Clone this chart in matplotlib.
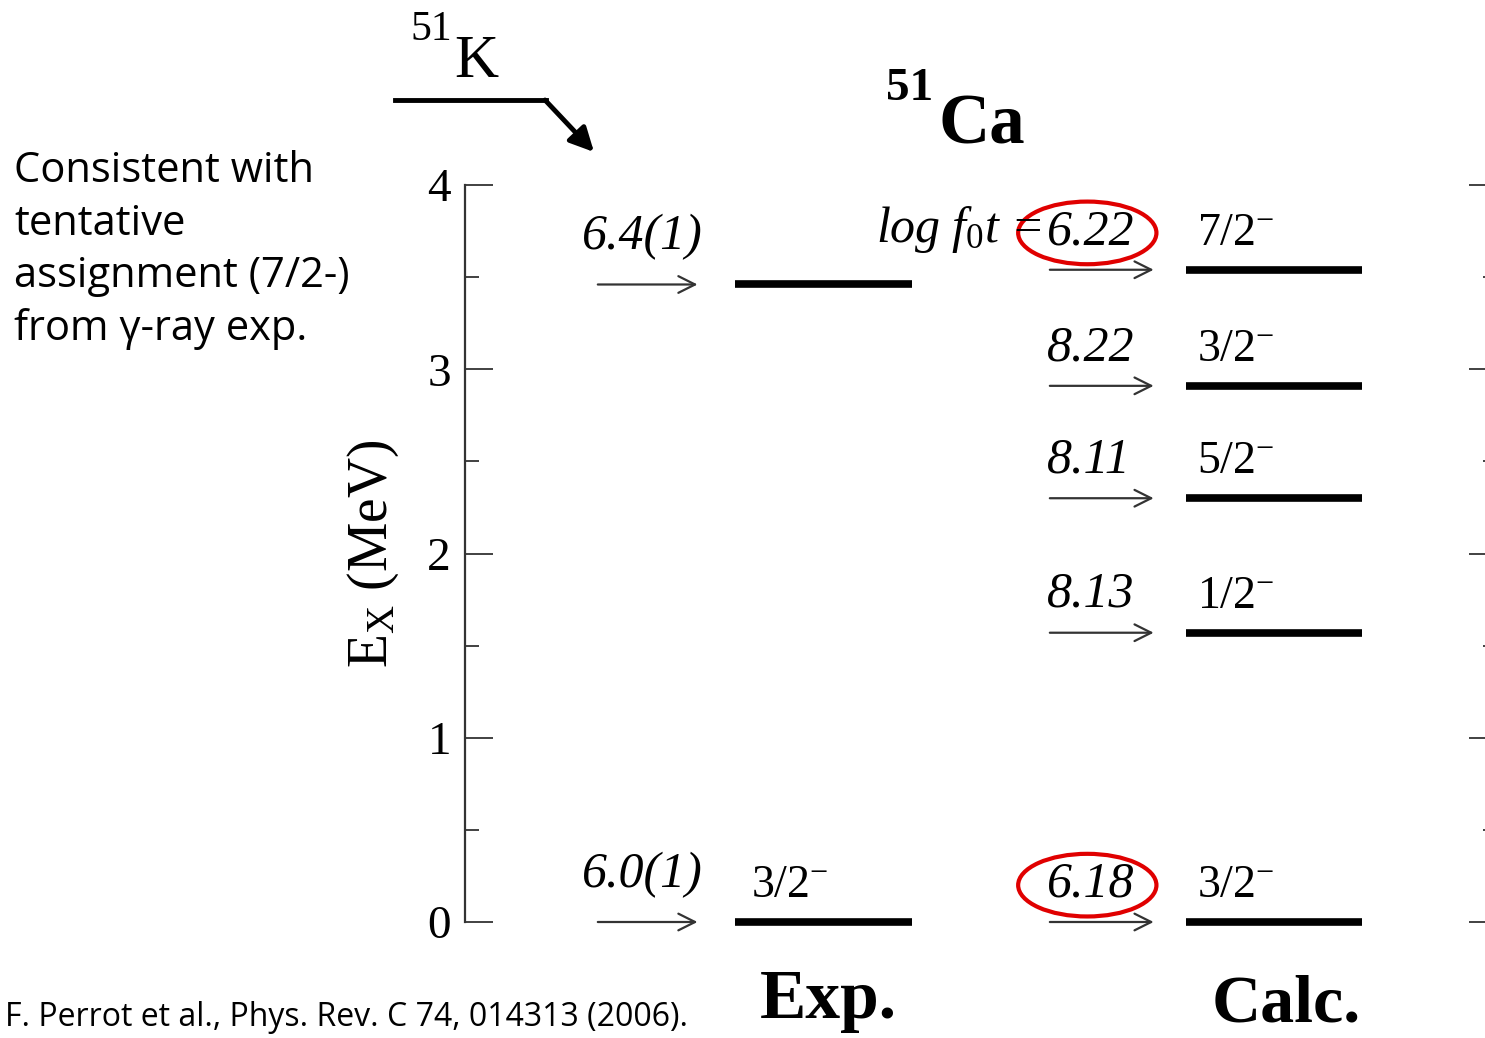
import matplotlib.pyplot as plt
from matplotlib.patches import Ellipse
from matplotlib.lines import Line2D

plt.rcParams['mathtext.fontset'] = 'custom'
plt.rcParams['mathtext.rm'] = 'Liberation Serif'
plt.rcParams['mathtext.it'] = 'Liberation Serif:italic'
plt.rcParams['mathtext.bf'] = 'Liberation Serif:bold'

# levels in 51Ca (MeV) and log ft values
exp_energy = [0.0, 3.46]
exp_logft = ['6.0(1)', '6.4(1)']
exp_spin = ['3/2', '']

calc_energy = [0.0, 1.57, 2.30, 2.91, 3.54]
calc_logft = ['6.18', '8.13', '8.11', '8.22', '6.22']
calc_spin = ['3/2', '1/2', '5/2', '3/2', '7/2']
circled = ['6.18', '6.22']

yticks = [0, 1, 2, 3, 4]

# column layout (axis x units 0..10)
exp_bar = (2.62, 4.33)
calc_bar = (6.99, 8.69)
exp_arrow = (1.26, 2.28)
calc_arrow = (5.64, 6.70)

serif = 'Liberation Serif'
W, H = 1485, 1038

fig = plt.figure(figsize=(14.85, 10.38), dpi=100)
ax = fig.add_axes([465 / W, 116 / H, 1032 / W, 737 / H])
ax.set_xlim(0, 10)
ax.set_ylim(0, 4)
for s in ['top', 'bottom', 'right']:
    ax.spines[s].set_visible(False)
ax.spines['left'].set_linewidth(1.6)
ax.spines['left'].set_color('#333333')
ax.set_xticks([])
ax.set_yticks(yticks)
ax.set_yticks([0.5, 1.5, 2.5, 3.5], minor=True)
ax.tick_params(which='major', direction='in', length=20, width=1.3, right=True,
               labelsize=34, pad=10, color='#333333')
ax.tick_params(which='minor', direction='in', length=10, width=1.3, right=True,
               color='#333333')
for lab in ax.get_yticklabels():
    lab.set_family(serif)
ax.set_ylabel(r'E$_{\mathrm{X}}$ (MeV)', fontsize=40, family=serif)
ax.yaxis.set_label_coords(-0.062, 0.5)

arrow_kw = dict(arrowstyle='->', lw=1.6, color='#333333', mutation_scale=30)

# experimental levels
for e, lf, sp in zip(exp_energy, exp_logft, exp_spin):
    ax.plot(exp_bar, [e, e], color='black', lw=5.5, solid_capstyle='butt',
            clip_on=False)
    ax.annotate('', xy=(exp_arrow[1], e), xytext=(exp_arrow[0], e),
                arrowprops=arrow_kw, annotation_clip=False)
    ax.text(exp_arrow[0] - 0.13, e + 0.13, lf, fontsize=36, family=serif,
            style='italic', ha='left', va='bottom')
    if sp:
        ax.text(exp_bar[0] + 0.15, e + 0.08, sp + r'$^{-}$', fontsize=33,
                family=serif, ha='left', va='bottom')

# calculated levels
for e, lf, sp in zip(calc_energy, calc_logft, calc_spin):
    ax.plot(calc_bar, [e, e], color='black', lw=5.5, solid_capstyle='butt',
            clip_on=False)
    ax.annotate('', xy=(calc_arrow[1], e), xytext=(calc_arrow[0], e),
                arrowprops=arrow_kw, annotation_clip=False)
    ax.text(calc_arrow[0], e + 0.08, lf, fontsize=36, family=serif,
            style='italic', ha='left', va='bottom')
    ax.text(calc_bar[0] + 0.1, e + 0.08, sp + r'$^{-}$', fontsize=33,
            family=serif, ha='left', va='bottom')
    if lf in circled:
        ax.add_patch(Ellipse((6.03, e + 0.2), 1.34, 0.34, fill=False,
                             edgecolor='#e00000', lw=3, clip_on=False))

ax.text(calc_arrow[0] - 0.05, calc_energy[-1] + 0.08, r'$log\ f_{0}t$ =',
        fontsize=36, family=serif, style='italic', ha='right', va='bottom')

# titles
fig.text(828 / W, 1 - 1018 / H, 'Exp.', fontsize=50, family=serif,
         weight='bold', ha='center', va='baseline')
fig.text(1286 / W, 1 - 1022 / H, 'Calc.', fontsize=49, family=serif,
         weight='bold', ha='center', va='baseline')
fig.text(938 / W, 1 - 144 / H, 'Ca', fontsize=51, family=serif,
         weight='bold', ha='left', va='baseline')
fig.text(886 / W, 1 - 100 / H, '51', fontsize=34, family=serif,
         weight='bold', ha='left', va='baseline')
fig.text(454 / W, 1 - 77 / H, 'K', fontsize=44, family=serif,
         ha='left', va='baseline')
fig.text(410 / W, 1 - 40 / H, '51', fontsize=30, family=serif,
         ha='left', va='baseline')

# decay arrow from 51K
fig.add_artist(Line2D([395 / W, 546 / W], [1 - 100 / H, 1 - 100 / H],
                      transform=fig.transFigure, color='black', lw=3.5))
ax.annotate('', xy=(594 / W, 1 - 152 / H), xytext=(545 / W, 1 - 100 / H),
            xycoords='figure fraction', textcoords='figure fraction',
            arrowprops=dict(arrowstyle='-|>', lw=3.5, color='black',
                            mutation_scale=36, shrinkA=0, shrinkB=0))

# notes
fig.text(14 / W, 1 - 150 / H,
         'Consistent with\ntentative\nassignment (7/2-)\nfrom \u03b3-ray exp.',
         fontsize=30, family='Open Sans', ha='left', va='top', linespacing=1.33)
fig.text(5 / W, 1 - 1026 / H, 'F. Perrot et al., Phys. Rev. C 74, 014313 (2006).',
         fontsize=23, family='Open Sans', ha='left', va='baseline')

fig.savefig('out.png', dpi=100)
